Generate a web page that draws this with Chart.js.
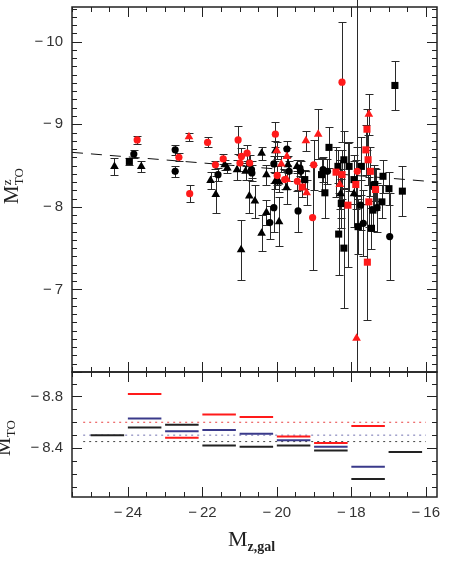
<!DOCTYPE html>
<html>
<head>
<meta charset="utf-8">
<script src="https://cdn.jsdelivr.net/npm/chart.js@4.4.0/dist/chart.umd.min.js"></script>
<style>
html, body { margin: 0; padding: 0; background: #fff; }
#wrap { position: relative; width: 452px; height: 572px; overflow: hidden; }
#top { position: absolute; left: 0; top: 0; }
#bot { position: absolute; left: 0; top: 360px; }
.lab { position: absolute; font-family: "Liberation Serif", "DejaVu Serif", serif; color: #222; white-space: nowrap; line-height: 1; }
.rot { transform: translate(-50%, -50%) rotate(-90deg); }
.stk { display: inline-block; vertical-align: middle; font-size: 13px; line-height: 0.95; text-align: left; }
</style>
</head>
<body>
<div id="wrap">
  <canvas id="top" width="452" height="380"></canvas>
  <canvas id="bot" width="452" height="212"></canvas>
  <div class="lab rot" style="left:13px; top:186px; font-size:21px;">M<span class="stk">z<br>TO</span></div>
  <div class="lab rot" style="left:5px; top:438px; font-size:21px;">M<sub style="font-size:13px;">TO</sub></div>
  <div class="lab" style="left:228px; top:528px; font-size:22px;">M<sub style="font-size:14px; font-weight:bold;">z,gal</sub></div>
</div>
<script>
// ─── Data: top panel (turn-off magnitude vs galaxy magnitude) ────────────────
const blackCircleX = [-23.84, -22.73, -22.73, -21.58, -20.74, -20.68, -20.67, -20.08, -19.73, -19.67, -19.38, -19.36, -20.08, -20.19, -19.43, -18.76, -18.64, -17.75, -17.68, -17.31, -16.97];
const blackCircleY = [-8.64, -8.69, -8.43, -8.39, -8.53, -8.45, -8.41, -8.52, -8.70, -8.43, -8.47, -8.43, -7.99, -7.81, -7.95, -8.45, -8.43, -8.02, -7.80, -7.99, -7.64];
const blackCircleErr = [0.05, 0.06, 0.07, 0.08, 0.1, 0.1, 0.1, 0.1, 0.1, 0.12, 0.1, 0.12, 0.3, 0.2, 0.25, 0.15, 0.15, 0.3, 0.4, 0.3, 0.53];

const blackTriX = [-24.36, -23.64, -21.40, -21.33, -21.78, -21.64, -20.96, -20.74, -20.59, -20.28, -20.41, -19.94, -19.74, -20.41, -20.04, -19.70, -20.28, -20.04, -19.94, -21.07, -20.84, -19.46, -18.29, -17.93];
const blackTriY = [-8.49, -8.49, -8.51, -8.47, -8.32, -8.15, -7.48, -8.13, -8.07, -7.93, -7.68, -7.82, -8.23, -8.65, -8.68, -8.51, -8.39, -8.31, -8.30, -8.45, -8.43, -8.49, -8.16, -8.16];
const blackTriErr = [0.1, 0.07, 0.06, 0.06, 0.1, 0.22, 0.36, 0.2, 0.2, 0.15, 0.22, 0.3, 0.2, 0.08, 0.12, 0.1, 0.12, 0.1, 0.12, 0.12, 0.1, 0.08, 0.3, 0.4];

const blackSqX = [-23.96, -18.60, -18.80, -18.71, -19.25, -18.36, -18.20, -18.06, -17.93, -17.73, -17.40, -17.15, -16.99, -16.63, -16.83, -18.34, -18.20, -18.27, -17.82, -17.46, -17.42, -17.18, -17.37];
const blackSqY = [-8.55, -8.72, -8.39, -8.17, -8.33, -8.49, -8.57, -8.49, -8.33, -8.49, -8.26, -8.37, -8.22, -8.19, -9.47, -7.67, -7.50, -8.04, -7.76, -7.74, -7.96, -8.06, -8.27];
const blackSqErr = [0.04, 0.25, 0.2, 0.3, 0.12, 0.2, 0.35, 0.3, 0.3, 0.35, 0.25, 0.2, 0.2, 0.3, 0.3, 0.5, 0.73, 0.3, 0.33, 0.25, 0.25, 0.2, 0.2];

const redCircleX = [-23.75, -22.63, -22.34, -21.86, -21.04, -21.65, -21.44, -20.95, -20.99, -20.80, -20.73, -20.04, -19.99, -19.79, -19.45, -19.01, -19.04, -18.25, -17.84];
const redCircleY = [-8.81, -8.60, -8.16, -8.78, -8.81, -8.51, -8.58, -8.61, -8.53, -8.65, -8.53, -8.88, -8.38, -8.33, -8.31, -8.51, -7.87, -9.51, -8.43];
const redCircleErr = [0.05, 0.05, 0.1, 0.06, 0.17, 0.05, 0.06, 0.1, 0.1, 0.1, 0.1, 0.15, 0.12, 0.12, 0.12, 0.3, 0.64, 0.73, 0.3];

const redTriX = [-22.36, -19.22, -18.89, -20.00, -19.73, -19.88, -19.73, -19.20, -18.31, -17.53, -17.86];
const redTriY = [-8.85, -8.80, -8.88, -8.68, -8.61, -8.52, -8.33, -8.17, -8.27, -9.12, -6.41];
const redTriErr = [0.05, 0.12, 0.3, 0.1, 0.1, 0.1, 0.12, 0.15, 0.3, 0.25, 4.5];

const redSqX = [-19.32, -18.41, -18.25, -17.88, -17.49, -17.35, -17.55, -17.58, -17.61, -18.09, -17.53, -17.57];
const redSqY = [-8.24, -8.42, -8.39, -8.27, -8.43, -8.21, -8.57, -8.94, -8.69, -8.02, -8.06, -7.33];
const redSqErr = [0.12, 0.3, 0.3, 0.3, 0.3, 0.25, 0.3, 0.25, 0.3, 0.75, 0.3, 0.7];

const fitX = [-25.5, -15.7];
const fitY = [-8.66, -8.30];

// ─── Data: bottom panel (binned means) ───────────────────────────────────────
const binStart = [-25, -24, -23, -22, -21, -20, -19, -18, -17];
const binWidth = 0.9;
const binRed = [null, -8.82, -8.48, -8.66, -8.64, -8.49, -8.44, -8.57, null];
const binBlue = [null, -8.63, -8.53, -8.54, -8.51, -8.46, -8.41, -8.255, null];
const binBlack = [-8.50, -8.56, -8.58, -8.42, -8.41, -8.42, -8.38, -8.16, -8.37];
const refRange = [-25.2, -16.0];
const refRed = -8.60;
const refBlue = -8.50;
const refBlack = -8.45;

const topYTicks = [-10, -9, -8, -7];
const botYTicks = [-8.8, -8.4];
const xTicks = [-24, -22, -20, -18, -16];

const RED = '#ff1a1a';
const BLUE = '#3a3a8a';
const INK = '#222';

// ─── Plugins ─────────────────────────────────────────────────────────────────
const errorBars = {
    id: 'errorBars',
    beforeDatasetsDraw(chart) {
        const { ctx, chartArea: a, scales } = chart;
        ctx.save();
        ctx.beginPath();
        ctx.rect(0, 0, chart.width, a.bottom);
        ctx.clip();
        ctx.strokeStyle = '#2a2a2a';
        ctx.lineWidth = 1;
        chart.data.datasets.forEach(ds => {
            if (!ds.errs) return;
            ds.data.forEach((p, j) => {
                const e = ds.errs[j];
                const x = Math.round(scales.x.getPixelForValue(p.x)) + 0.5;
                const y1 = Math.round(scales.y.getPixelForValue(p.y - e)) + 0.5;
                const y2 = Math.round(scales.y.getPixelForValue(p.y + e)) + 0.5;
                ctx.beginPath();
                ctx.moveTo(x, y1); ctx.lineTo(x, y2);
                ctx.moveTo(x - 4, y1); ctx.lineTo(x + 4, y1);
                ctx.moveTo(x - 4, y2); ctx.lineTo(x + 4, y2);
                ctx.stroke();
            });
        });
        ctx.restore();
    }
};

const frameTicks = {
    id: 'frameTicks',
    afterDraw(chart, args, opts) {
        const { ctx, chartArea: a, scales } = chart;
        ctx.save();
        ctx.strokeStyle = INK;
        ctx.lineWidth = 1;
        const walk = (scale, minor, major, cb) => {
            const lo = Math.min(scale.min, scale.max), hi = Math.max(scale.min, scale.max);
            for (let i = Math.ceil(lo / minor - 1e-6); i <= Math.floor(hi / minor + 1e-6); i++) {
                const v = i * minor;
                const isMajor = Math.abs(v / major - Math.round(v / major)) < 1e-6;
                cb(Math.round(scale.getPixelForValue(v)) + 0.5, isMajor ? 10 : 5);
            }
        };
        ctx.beginPath();
        walk(scales.x, opts.xMinor, opts.xMajor, (px, len) => {
            ctx.moveTo(px, a.bottom); ctx.lineTo(px, a.bottom - len);
            ctx.moveTo(px, a.top); ctx.lineTo(px, a.top + len);
        });
        walk(scales.y, opts.yMinor, opts.yMajor, (py, len) => {
            ctx.moveTo(a.left, py); ctx.lineTo(a.left + len, py);
            ctx.moveTo(a.right, py); ctx.lineTo(a.right - len, py);
        });
        ctx.stroke();
        ctx.lineWidth = 1.5;
        ctx.strokeRect(a.left, a.top, a.right - a.left, a.bottom - a.top);
        ctx.restore();
    }
};

// ─── Helpers ─────────────────────────────────────────────────────────────────
function pts(xs, ys) {
    return xs.map((x, i) => ({ x, y: ys[i] }));
}

function markers(label, xs, ys, errs, color, style, r) {
    return {
        label, data: pts(xs, ys), errs,
        pointStyle: style, pointRadius: r,
        backgroundColor: color, borderColor: color, pointBorderWidth: 0,
        showLine: false
    };
}

function segments(values) {
    const out = [];
    binStart.forEach((s, i) => {
        if (values[i] === null) return;
        out.push({ x: s, y: values[i] }, { x: s + binWidth, y: values[i] }, { x: s + binWidth + 0.05, y: null });
    });
    return out;
}

function line(label, data, color, width, dash) {
    return {
        label, data, showLine: true, spanGaps: false,
        borderColor: color, borderWidth: width, borderDash: dash || [],
        pointRadius: 0, fill: false
    };
}

const minusFmt = v => '\u2212\u2009' + Math.abs(v);
const tickFont = { family: '"Liberation Sans", Arial, sans-serif', size: 15 };

// ─── Top panel ───────────────────────────────────────────────────────────────
new Chart(document.getElementById('top'), {
    type: 'scatter',
    data: {
        datasets: [
            markers('red circles', redCircleX, redCircleY, redCircleErr, RED, 'circle', 3.6),
            markers('red triangles', redTriX, redTriY, redTriErr, RED, 'triangle', 5),
            markers('red squares', redSqX, redSqY, redSqErr, RED, 'rect', 5),
            markers('black circles', blackCircleX, blackCircleY, blackCircleErr, '#000', 'circle', 3.6),
            markers('black triangles', blackTriX, blackTriY, blackTriErr, '#000', 'triangle', 5),
            markers('black squares', blackSqX, blackSqY, blackSqErr, '#000', 'rect', 5),
            line('fit', pts(fitX, fitY), '#111', 1, [11, 8])
        ]
    },
    options: {
        responsive: false,
        animation: false,
        layout: { padding: { left: 0, right: 15, top: 7, bottom: 8 } },
        plugins: {
            legend: { display: false },
            tooltip: { enabled: false },
            frameTicks: { xMinor: 0.5, xMajor: 2, yMinor: 0.1, yMajor: 1 }
        },
        scales: {
            x: { type: 'linear', min: -25.5, max: -15.7, display: false },
            y: {
                type: 'linear', min: -10.42, max: -6.0, reverse: true,
                grid: { display: false, drawTicks: false },
                border: { display: false },
                afterBuildTicks: s => { s.ticks = topYTicks.map(v => ({ value: v })); },
                afterFit: s => { s.width = 72; s.paddingTop = 0; s.paddingBottom = 0; },
                ticks: { callback: minusFmt, color: '#333', font: tickFont, padding: 9 }
            }
        }
    },
    plugins: [errorBars, frameTicks]
});

// ─── Bottom panel ────────────────────────────────────────────────────────────
new Chart(document.getElementById('bot'), {
    type: 'scatter',
    data: {
        datasets: [
            line('mean red', segments(binRed), RED, 2),
            line('mean blue', segments(binBlue), BLUE, 2),
            line('mean black', segments(binBlack), INK, 2),
            line('ref red', pts(refRange, [refRed, refRed]), '#e84040', 1, [2, 4]),
            line('ref blue', pts(refRange, [refBlue, refBlue]), '#7070b0', 1, [2, 4]),
            line('ref black', pts(refRange, [refBlack, refBlack]), '#444', 1, [2, 4])
        ]
    },
    options: {
        responsive: false,
        animation: false,
        layout: { padding: { left: 0, right: 15, top: 12, bottom: 0 } },
        plugins: {
            legend: { display: false },
            tooltip: { enabled: false },
            frameTicks: { xMinor: 0.5, xMajor: 2, yMinor: 0.1, yMajor: 0.4 }
        },
        scales: {
            x: {
                type: 'linear', min: -25.5, max: -15.7,
                grid: { display: false, drawTicks: false },
                border: { display: false },
                afterBuildTicks: s => { s.ticks = xTicks.map(v => ({ value: v })); },
                afterFit: s => { s.height = 75; s.paddingLeft = 0; s.paddingRight = 0; },
                ticks: { callback: minusFmt, color: '#333', font: tickFont, padding: 7, maxRotation: 0, autoSkip: false }
            },
            y: {
                type: 'linear', min: -8.99, max: -8.02, reverse: true,
                grid: { display: false, drawTicks: false },
                border: { display: false },
                afterBuildTicks: s => { s.ticks = botYTicks.map(v => ({ value: v })); },
                afterFit: s => { s.width = 72; s.paddingTop = 0; s.paddingBottom = 0; },
                ticks: { callback: minusFmt, color: '#333', font: tickFont, padding: 9 }
            }
        }
    },
    plugins: [frameTicks]
});
</script>
</body>
</html>
